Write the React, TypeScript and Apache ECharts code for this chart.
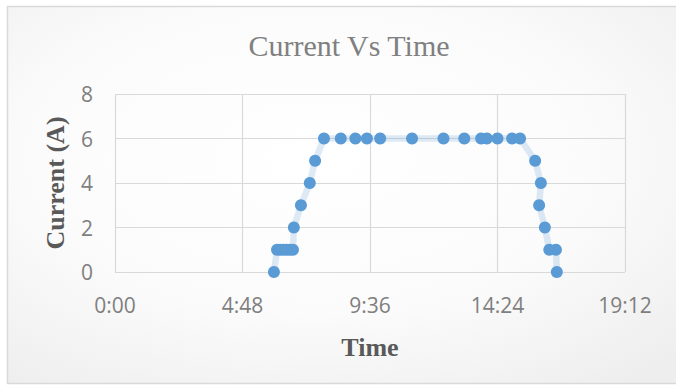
import React, { useEffect, useRef } from "react";
import * as echarts from "echarts";

// Elapsed time of day in minutes, and the measured current at each reading
const timeMinutes = [
  359, 366, 373, 380, 388, 395, 402,
  404, 420, 440, 452,
  472, 510, 543, 569, 599, 671, 742, 789, 827, 840, 864, 897, 915,
  949, 962, 958, 971, 981, 996, 998,
];
const currentAmps = [
  0, 1, 1, 1, 1, 1, 1,
  2, 3, 4, 5,
  6, 6, 6, 6, 6, 6, 6, 6, 6, 6, 6, 6, 6,
  5, 4, 3, 2, 1, 1, 0,
];

const xMin = 0;
const xMax = 1152; // 19:12
const xStep = 288; // 4:48
const yMin = 0;
const yMax = 8;
const yStep = 2;

const chartTitle = "Current Vs Time";
const xTitle = "Time";
const yTitle = "Current (A)";

const fmtClock = (m: number) => {
  const h = Math.floor(m / 60);
  const mm = Math.round(m - h * 60);
  return `${h}:${mm < 10 ? "0" + mm : mm}`;
};

export default function App() {
  const ref = useRef<HTMLDivElement>(null);

  useEffect(() => {
    if (!ref.current) return;
    const chart = echarts.init(ref.current, null, { renderer: "svg" });
    const points = timeMinutes.map((t, i) => [t, currentAmps[i]]);

    chart.setOption({
      animation: false,
      backgroundColor: "#ffffff",
      graphic: [
        {
          type: "rect",
          z: -10,
          silent: true,
          shape: { x: 7.5, y: 6.5, width: 680, height: 377 },
          style: {
            fill: new echarts.graphic.RadialGradient(0.45, 0.4, 0.75, [
              { offset: 0, color: "#ffffff" },
              { offset: 0.55, color: "#fbfbfb" },
              { offset: 1, color: "#eeeeee" },
            ]),
            stroke: "#d9d9d9",
            lineWidth: 1.5,
          },
        },
      ],
      title: {
        text: chartTitle,
        left: 344,
        top: 25,
        textAlign: "center",
        textStyle: {
          fontFamily: "Liberation Serif",
          fontSize: 30,
          fontWeight: "normal",
          color: "#808080",
        },
      },
      grid: { left: 115, right: 51, top: 94, bottom: 113, containLabel: false },
      xAxis: {
        type: "value",
        min: xMin,
        max: xMax,
        interval: xStep,
        name: xTitle,
        nameLocation: "middle",
        nameGap: 62,
        nameTextStyle: {
          fontFamily: "Liberation Serif",
          fontSize: 26,
          fontWeight: "bold",
          color: "#595959",
        },
        axisLine: { show: false },
        axisTick: { show: false },
        axisLabel: {
          margin: 22,
          fontFamily: "Open Sans",
          fontSize: 21,
          color: "#7f7f7f",
          formatter: (v: number) => fmtClock(v),
        },
        splitLine: { show: true, lineStyle: { color: "#d9d9d9", width: 1.2 } },
      },
      yAxis: {
        type: "value",
        min: yMin,
        max: yMax,
        interval: yStep,
        name: yTitle,
        nameLocation: "middle",
        nameGap: 47,
        nameTextStyle: {
          fontFamily: "Liberation Serif",
          fontSize: 26,
          fontWeight: "bold",
          color: "#595959",
        },
        axisLine: { show: false },
        axisTick: { show: false },
        axisLabel: {
          margin: 22,
          fontFamily: "Open Sans",
          fontSize: 21,
          color: "#7f7f7f",
        },
        splitLine: { show: true, lineStyle: { color: "#d9d9d9", width: 1.2 } },
      },
      series: [
        {
          type: "line",
          data: points,
          symbol: "circle",
          symbolSize: 12,
          itemStyle: { color: "#5b9bd5" },
          lineStyle: { color: "rgba(91,155,213,0.2)", width: 6.5 },
          z: 3,
        },
      ],
    });

    return () => chart.dispose();
  }, []);

  return (
    <div
      ref={ref}
      style={{ position: "fixed", left: 0, top: 0, width: 676, height: 385 }}
    />
  );
}
